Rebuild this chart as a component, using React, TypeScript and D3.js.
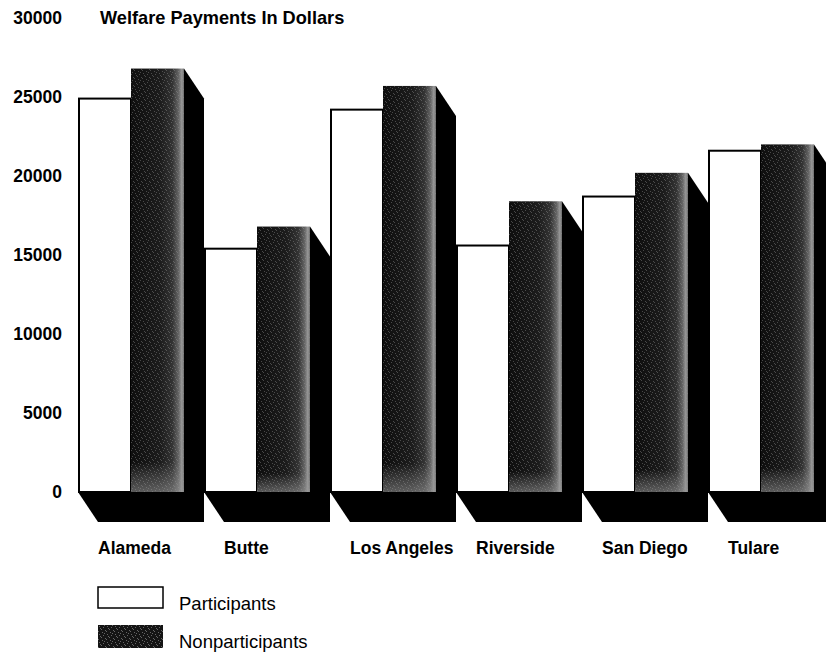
import React from 'react';
import { useEffect, useRef } from 'react';
import * as d3 from 'd3';

// chart data
const categories = ["Alameda", "Butte", "Los Angeles", "Riverside", "San Diego", "Tulare"];
const participants = [24900, 15400, 24200, 15600, 18700, 21600];
const nonparticipants = [26800, 16800, 25700, 18400, 20200, 22000];
const yTicks = [0, 5000, 10000, 15000, 20000, 25000, 30000];
const seriesNames = ["Participants", "Nonparticipants"];
const title = "Welfare Payments In Dollars";

// speckle texture offsets in an 8x8 tile
const speckles = [[1, 1], [5, 2], [3, 4], [7, 5], [0, 6], [4, 7], [6, 0], [2, 3]];

function Chart() {
    const svgNode = useRef<SVGSVGElement>(null);
    const width = 826;
    const height = 656;
    const font = "'Liberation Sans', Arial, Helvetica, sans-serif";

    useEffect(() => {
        const svg = d3.select(svgNode.current);
        svg.selectAll("*").remove();

        const barW = 53;
        const dx = 20;
        const dy = 30;

        const x = d3.scaleBand<string>()
            .domain(categories)
            .range([78, 78 + 126 * categories.length])
            .padding(0);
        const y = d3.scaleLinear()
            .domain([0, 30000])
            .range([492, 18]);
        const base = y(0);

        //defs: gradient + speckle
        const defs = svg.append("defs");
        const grad = defs.append("linearGradient")
            .attr("id", "darkFace")
            .attr("x1", 0).attr("x2", 1).attr("y1", 0).attr("y2", 0);
        [[0, "#0e0e0e"], [0.55, "#1c1c1c"], [0.78, "#333"], [0.9, "#666"], [0.96, "#999"], [1, "#6a6a6a"]]
            .forEach(([o, c]) => grad.append("stop").attr("offset", o as number).attr("stop-color", c as string));
        const vgrad = defs.append("linearGradient")
            .attr("id", "darkBottom")
            .attr("x1", 0).attr("x2", 0).attr("y1", 0).attr("y2", 1);
        vgrad.append("stop").attr("offset", 0.93).attr("stop-color", "#999").attr("stop-opacity", 0);
        vgrad.append("stop").attr("offset", 1).attr("stop-color", "#999").attr("stop-opacity", 0.55);
        const pat = defs.append("pattern")
            .attr("id", "speckle")
            .attr("patternUnits", "userSpaceOnUse")
            .attr("width", 8).attr("height", 8);
        speckles.forEach(([px, py]) => pat.append("rect")
            .attr("x", px).attr("y", py).attr("width", 1).attr("height", 1)
            .attr("fill", "#9a9a9a"));

        //y tick labels
        svg.append("g")
            .selectAll("text")
            .data(yTicks)
            .join("text")
            .attr("x", 62)
            .attr("y", d => y(d))
            .attr("text-anchor", "end")
            .attr("dominant-baseline", "central")
            .attr("font-family", font)
            .attr("font-weight", "bold")
            .attr("font-size", 17.5)
            .text(d => d);

        svg.append("text")
            .attr("x", 100)
            .attr("y", y(30000))
            .attr("dominant-baseline", "central")
            .attr("font-family", font)
            .attr("font-weight", "bold")
            .attr("font-size", 18.2)
            .text(title);

        //groups of 3d bars
        const groups = svg.append("g")
            .selectAll("g")
            .data(categories)
            .join("g")
            .attr("transform", d => `translate(${x(d)},0)`);

        // floor
        groups.append("path")
            .attr("fill", "#000")
            .attr("d", () => `M0,${base}H${2 * barW}L${2 * barW + dx},${base + dy}H${dx}Z`);

        // participants (white)
        groups.append("rect")
            .attr("x", 1)
            .attr("y", (d, i) => y(participants[i]))
            .attr("width", barW - 1)
            .attr("height", (d, i) => base - y(participants[i]))
            .attr("fill", "#fff")
            .attr("stroke", "#000")
            .attr("stroke-width", 2);

        // nonparticipants side
        groups.append("path")
            .attr("fill", "#000")
            .attr("d", (d, i) => {
                const t = y(nonparticipants[i]);
                return `M${2 * barW},${t}L${2 * barW + dx},${t + dy}V${base + dy}H${2 * barW}Z`;
            });

        // nonparticipants front
        const front = (fill: string) => groups.append("rect")
            .attr("x", barW)
            .attr("y", (d, i) => y(nonparticipants[i]))
            .attr("width", barW)
            .attr("height", (d, i) => base - y(nonparticipants[i]))
            .attr("fill", fill);
        front("url(#darkFace)");
        front("url(#speckle)").attr("opacity", 0.4);
        front("url(#darkBottom)");

        // category labels
        groups.append("text")
            .attr("x", dx)
            .attr("y", base + 56)
            .attr("dominant-baseline", "central")
            .attr("font-family", font)
            .attr("font-weight", "bold")
            .attr("font-size", 17.5)
            .text(d => d);

        //legend
        const legend = svg.append("g")
            .selectAll("g")
            .data(seriesNames)
            .join("g")
            .attr("transform", (d, i) => `translate(98,${587 + i * 38})`);
        legend.append("rect")
            .attr("width", 65)
            .attr("height", (d, i) => i === 0 ? 21 : 23)
            .attr("fill", (d, i) => i === 0 ? "#fff" : "#141414")
            .attr("stroke", (d, i) => i === 0 ? "#000" : "none")
            .attr("stroke-width", 1.5);
        legend.filter((d, i) => i === 1).append("rect")
            .attr("width", 65)
            .attr("height", 23)
            .attr("fill", "url(#speckle)")
            .attr("opacity", 0.6);
        legend.append("text")
            .attr("x", 81)
            .attr("y", 16)
            .attr("dominant-baseline", "central")
            .attr("font-family", font)
            .attr("font-size", 18.5)
            .text(d => d);
    }, []);

    return (
        <svg ref={svgNode} width={width} height={height}
            style={{ position: "absolute", left: 0, top: 0, background: "#fff" }}></svg>
    );
}

export default function App() {
    return <Chart />;
}
